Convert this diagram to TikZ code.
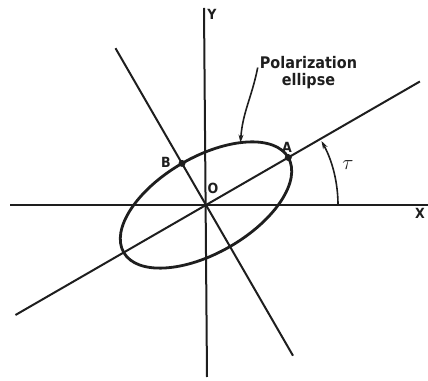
\documentclass[tikz,border=0pt]{standalone}
\usepackage{fontspec}
\setmainfont{DejaVu Sans Condensed}
\usepackage{tikz}
\usetikzlibrary{arrows.meta,positioning,calc}
\definecolor{inkgray}{RGB}{30,30,30}

\begin{document}
\begin{tikzpicture}[x=1pt,y=1pt,
  axisline/.style={draw=inkgray, line width=2pt},
  ellipseline/.style={draw=inkgray, line width=2.8pt},
  axislabel/.style={font=\fontsize{14}{16}\selectfont\bfseries, text=inkgray, inner sep=1pt},
  pointdot/.style={circle, fill=inkgray, inner sep=0pt, minimum size=7pt}]
\useasboundingbox (0,0) rectangle (428,380);
\coordinate (O) at (206,175);
\coordinate (xleft) at (10,175);
\coordinate (xright) at (428,175);
\coordinate (ytop) at (204,372);
\coordinate (ybottom) at (207,3);
\coordinate (majorlow) at ($(O)+(210:220)$);
\coordinate (majorhigh) at ($(O)+(30:247)$);
\coordinate (minorhigh) at ($(O)+(120:181)$);
\coordinate (minorlow) at ($(O)+(300:174)$);
\coordinate (arcstart) at ($(O)+(0:132)$);
\draw[axisline] (xleft) -- (xright);
\draw[axisline] (ybottom) -- (ytop);
\draw[axisline] (majorlow) -- (majorhigh);
\draw[axisline] (minorlow) -- (minorhigh);
\draw[ellipseline, rotate around={30:(O)}] (O) ellipse [x radius=95, y radius=48];
\begin{scope}[shift={(O)}, rotate=30]
\coordinate (rimtop) at (50:95 and 48);
\node[pointdot] (A) at (0:95) {};
\node[pointdot] (B) at (90:48) {};
\end{scope}
\node[axislabel] (Alabel) at (287,233) {A};
\node[axislabel] (Blabel) at (166,218) {B};
\node[axislabel] (Olabel) at (213,192) {O};
\node[axislabel] (Xlabel) at (420,167) {X};
\node[axislabel] (Ylabel) at (212,366) {Y};
\draw[axisline, line width=1.6pt, -{Stealth[length=8pt,width=5pt]}] (arcstart) arc[start angle=0, end angle=29, radius=132];
\node[font=\fontsize{20}{22}\selectfont, text=inkgray] (tau) at (348,215) {$\tau$};
\node[font=\fontsize{16}{17}\selectfont\bfseries, text=inkgray, align=center, inner sep=1pt] (caption) at (308.5,307) {Polarization\\ellipse};
\draw[axisline, line width=1.6pt, -{Stealth[length=8pt,width=5pt]}] (caption.north west) ++(-1,-12) coordinate (capfoot)
  .. controls ($(capfoot)+(-6,-30)$) and ($(rimtop)+(2,30)$) .. (rimtop);
\end{tikzpicture}
\end{document}
